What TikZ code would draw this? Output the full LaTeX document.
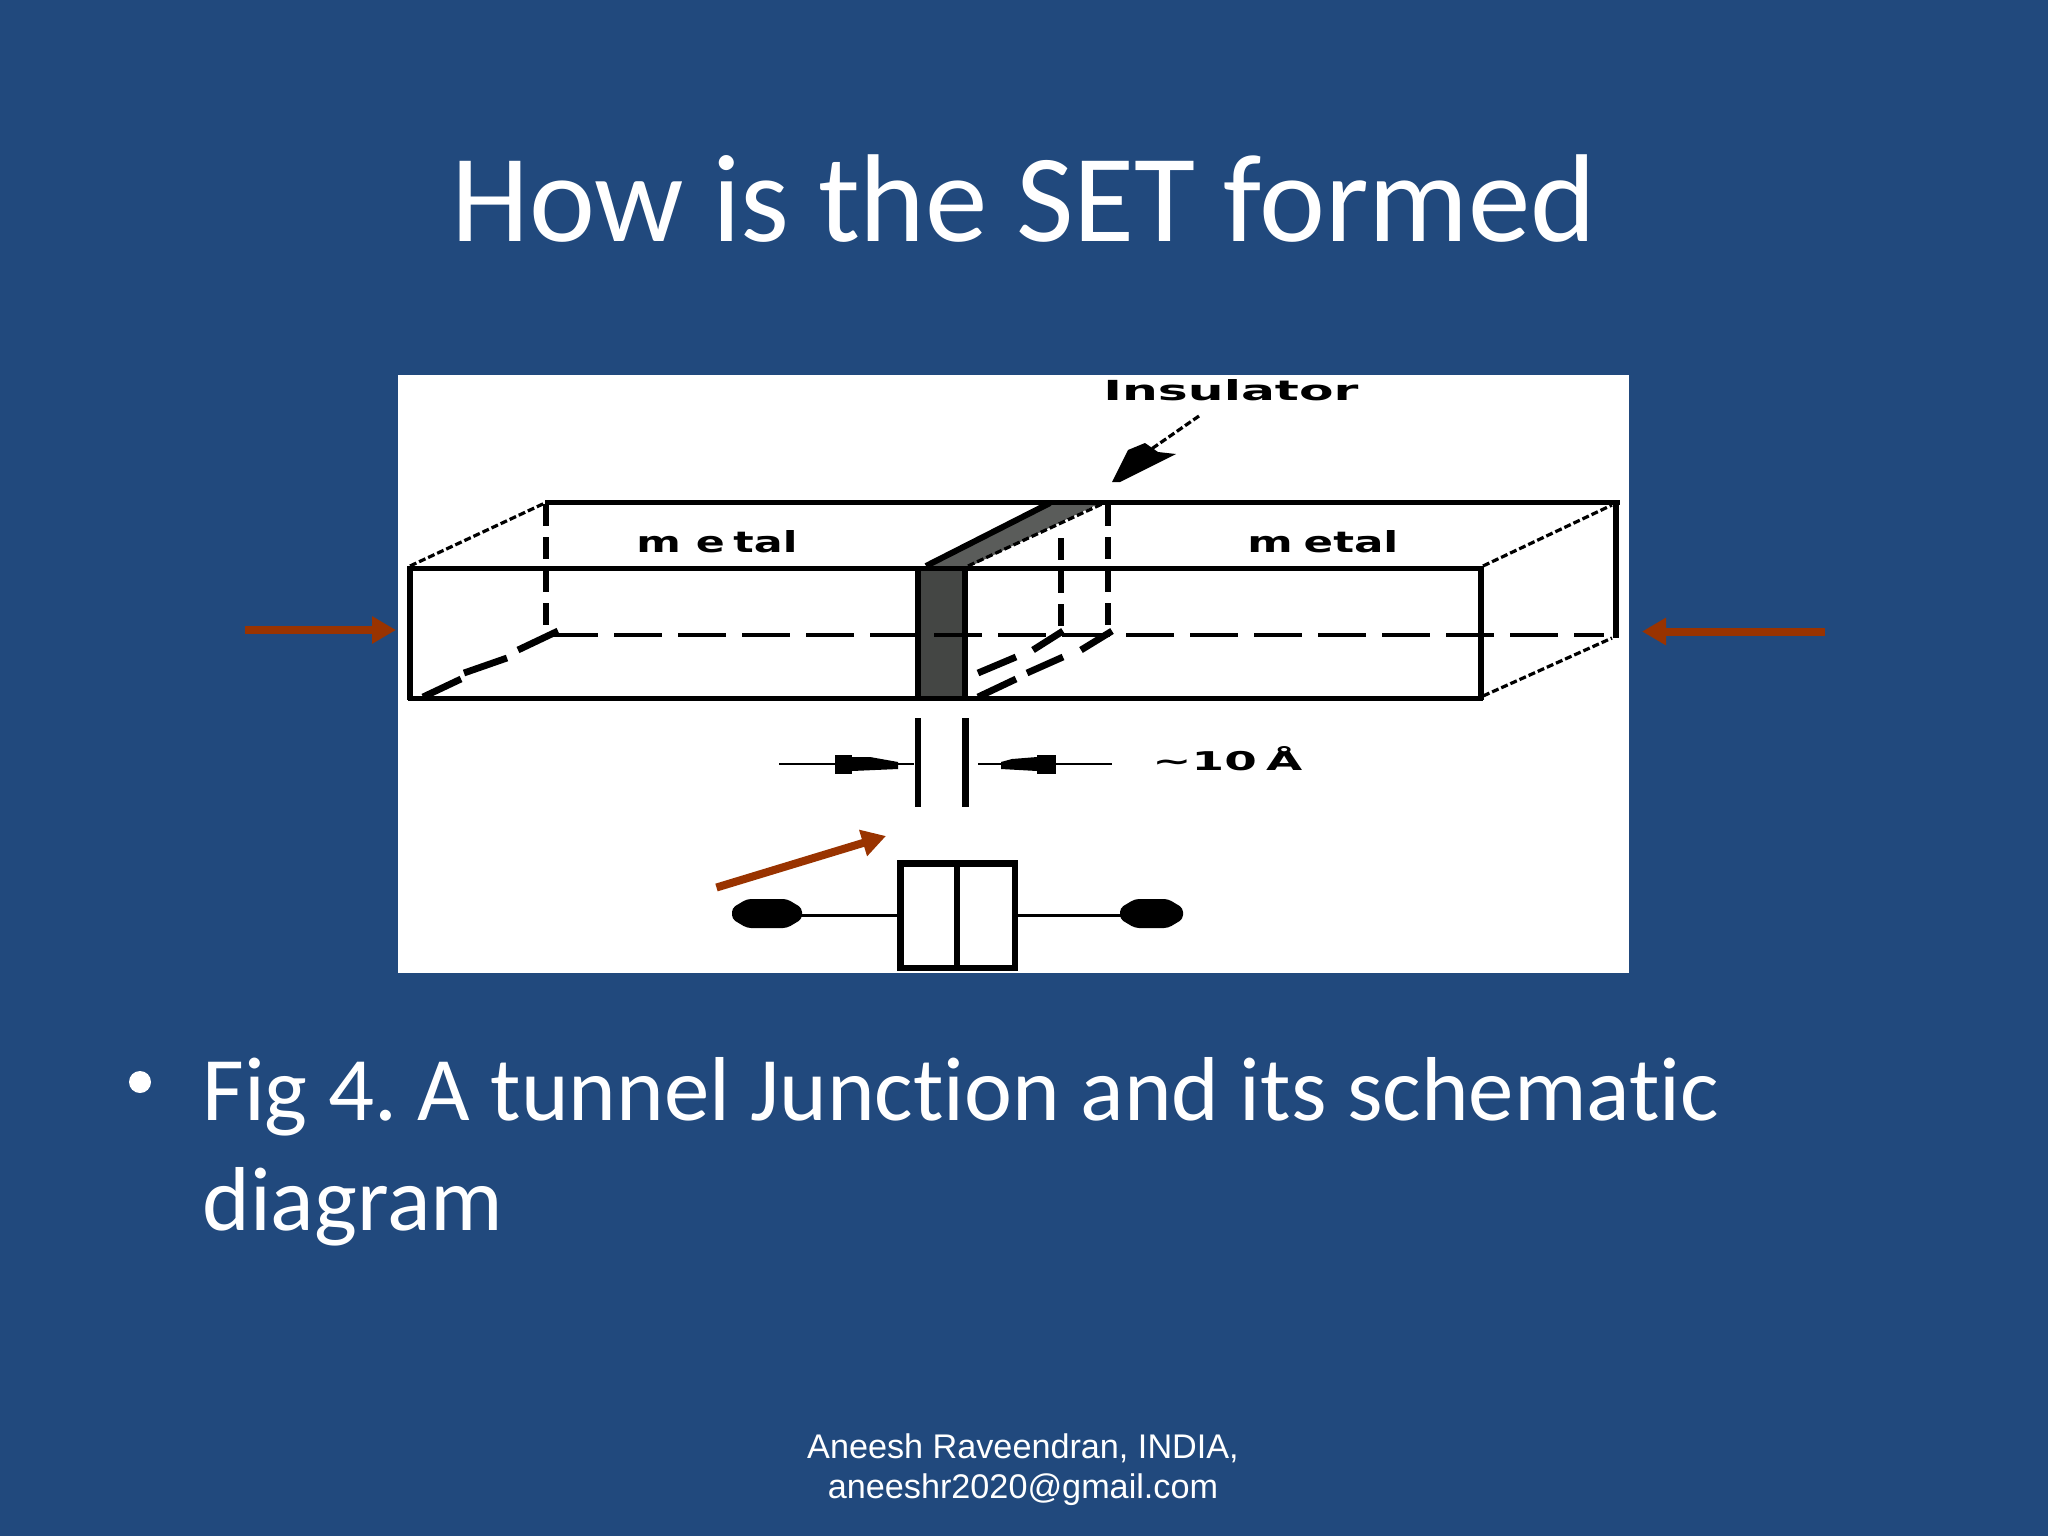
\documentclass[tikz,border=0pt]{standalone}
\usepackage{fontspec}
\usepackage{graphicx}
\setmainfont{Carlito}[Ligatures=CommonOff]
\newfontfamily\footfont{Liberation Sans}
\newfontfamily\pixfont{DejaVu Sans}[BoldFont={DejaVu Sans Bold}]
\frenchspacing
\usetikzlibrary{arrows.meta}
\definecolor{slidebg}{HTML}{21497D}
\definecolor{brownred}{HTML}{993300}
\definecolor{insfront}{HTML}{444644}
\definecolor{instop}{HTML}{5A5C5A}
\tikzset{
  edge/.style={line width=2.5pt,black},
  stair/.style={line width=1.6pt,black,dash pattern=on 3.5pt off 1.5pt},
  hidv/.style={line width=3pt,black,dash pattern=on 11pt off 5.5pt},
  hidh/.style={line width=1.8pt,black,dash pattern=on 24pt off 8pt},
  hidd/.style={line width=3.4pt,black},
  thinl/.style={line width=1.4pt,black},
  brownarrow/.style={draw=brownred,line width=4pt,-{Triangle[length=12pt,width=13pt]}},
  pixlabel/.style={inner sep=0pt,anchor=south west,black},
}
\newcommand{\pixtext}[3]{\resizebox{#1pt}{#2pt}{\pixfont\bfseries #3}}
\begin{document}
\begin{tikzpicture}[x=0.5pt,y=-0.5pt]
\useasboundingbox (0,0) rectangle (2048,1536);
\fill[slidebg] (0,0) rectangle (2048,1536);
\fill[white] (398,375) rectangle (1629,973);
% insulator faces
\fill[instop] (926,568) -- (967,568) -- (1102,502) -- (1048,502) -- cycle;
\fill[insfront] (918,568) rectangle (965,698);
% hidden edges
\draw[hidh] (550,635) -- (1604,635);
\draw[hidv] (545.5,504) -- (545.5,634);
\draw[hidv] (1061,538) -- (1061,634);
\draw[hidv] (1108,504) -- (1108,634);
\draw[hidd] (423,697) -- (461,679);
\draw[hidd] (464,673) -- (507,658);
\draw[hidd] (518,650) -- (558,631);
\draw[hidd] (978,697) -- (1016,679);
\draw[hidd] (978,673) -- (1016,657);
\draw[hidd] (1033,650) -- (1063,631);
\draw[hidd] (1027,673) -- (1063,657);
\draw[hidd] (1081,650) -- (1112,631);
% box
\draw[edge] (545,502) -- (1620,502);
\draw[edge] (410,568) -- (1481,568);
\draw[edge] (408,698) -- (1483,698);
\draw[line width=3.4pt] (410,566) -- (410,700);
\draw[line width=3.4pt] (1481,566) -- (1481,700);
\draw[line width=3.4pt] (1616,500) -- (1616,638);
\draw[line width=3.4pt] (918,568) -- (918,698);
\draw[line width=3.4pt] (965,568) -- (965,698);
\draw[stair] (410,566) -- (545,503);
\draw[stair] (1483,566) -- (1612,505);
\draw[stair] (1483,696) -- (1612,638);
\draw[stair] (968,566) -- (1102,504);
\draw[line width=3pt] (926,566) -- (1050,503);
% labels
\node[pixlabel] (metalL) at (636,553) {\pixtext{80.5}{11}{m\kern.35em e\kern.2em tal}};
\node[pixlabel] (metalR) at (1247,553) {\pixtext{75.5}{11}{m\kern.25em etal}};
\node[pixlabel] (insul) at (1103,401) {\pixtext{127.5}{10.5}{Insulator}};
\node[pixlabel] (gap) at (1152,771) {\pixtext{75}{12}{\textasciitilde10\kern.2em Å}};
% insulator pointer
\draw[stair] (1199,416) -- (1150,450);
\fill (1112,482) -- (1128,450) -- (1145,443) -- (1158,452) -- (1176,454) -- (1120,482) -- cycle;
% plates and dimension
\draw[line width=3.4pt] (918,718) -- (918,807);
\draw[line width=3.4pt] (965.5,718) -- (965.5,807);
\draw[thinl] (779,764) -- (914,764);
\draw[thinl] (978,764) -- (1112,764);
\fill (835,755) rectangle (852,774);
\fill (852,757) -- (870,757) -- (898,762) -- (898,769) -- (852,771) -- cycle;
\fill (1037,755) rectangle (1056,774);
\fill (1037,757) -- (1012,759) -- (1001,762) -- (1001,769) -- (1037,771) -- cycle;
% schematic
\draw[line width=3.2pt] (900.5,863.5) rectangle (1015,968);
\draw[line width=3.2pt] (957,863.5) -- (957,968);
\fill[rounded corners=2pt] (732,908) -- (747,899) -- (787,899) -- (802,908) -- (802,919) -- (787,928) -- (747,928) -- (732,919) -- cycle;
\fill[rounded corners=2pt] (1120,908) -- (1135,899) -- (1168,899) -- (1183,908) -- (1183,919) -- (1168,928) -- (1135,928) -- (1120,919) -- cycle;
\draw[thinl] (800,915.5) -- (900,915.5);
\draw[thinl] (1015,915.5) -- (1125,915.5);
% red arrows
\coordinate (la0) at (245,630);
\coordinate (la1) at (396,630);
\coordinate (ra0) at (1825,631.5);
\coordinate (ra1) at (1642,631.5);
\coordinate (da0) at (716.5,887.5);
\coordinate (da1) at (886,836);
\draw[brownarrow] (la0) -- (la1);
\draw[brownarrow] (ra0) -- (ra1);
\draw[brownarrow] (da0) -- (da1);
% slide text
\node[white,font=\fontsize{62.5}{62.5}\selectfont,inner sep=0pt,anchor=base] (title) at (1024,241) {How is the SET formed};
\node[white,font=\fontsize{45.4}{45.4}\selectfont,inner sep=0pt,anchor=base west] (body1) at (202,1120) {Fig 4. A tunnel Junction and its schematic};
\node[white,font=\fontsize{45.4}{45.4}\selectfont,inner sep=0pt,anchor=base west] (body2) at (202,1230) {diagram};
\fill[white] (140,1082) circle (11);
\node[white,font=\footfont\fontsize{17.1}{17.1}\selectfont,inner sep=0pt,anchor=base] (foot1) at (1023,1458) {Aneesh Raveendran, INDIA,};
\node[white,font=\footfont\fontsize{17.1}{17.1}\selectfont,inner sep=0pt,anchor=base] (foot2) at (1023,1498) {aneeshr2020@gmail.com};
\end{tikzpicture}
\end{document}
